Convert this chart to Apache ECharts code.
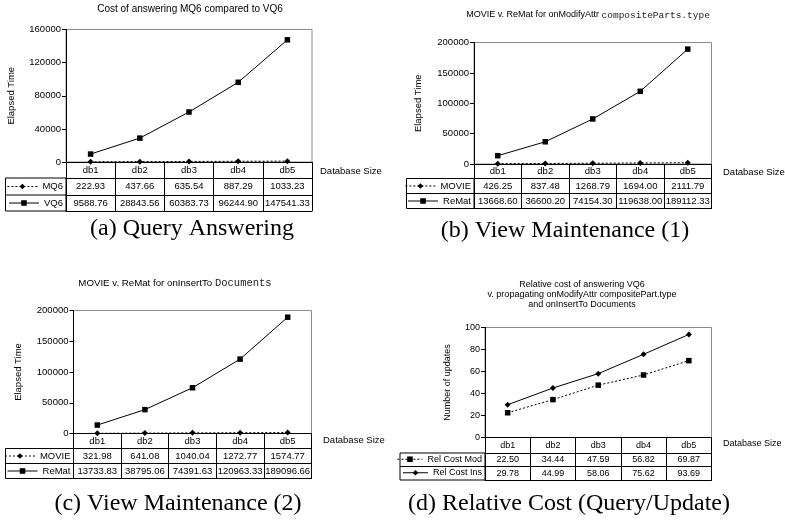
<!DOCTYPE html>
<html><head><meta charset="utf-8">
<script src="https://cdn.jsdelivr.net/npm/echarts@6/dist/echarts.min.js"></script>
<style>html,body{margin:0;padding:0;background:#fff}#c{width:785px;height:520px}</style>
</head><body><div id="c"></div>
<script>
// ---- data ----
const categories = ['db1', 'db2', 'db3', 'db4', 'db5'];
const aMQ6   = [222.93, 437.66, 635.54, 887.29, 1033.23];
const aVQ6   = [9588.76, 28843.56, 60383.73, 96244.90, 147541.33];
const bMOVIE = [426.25, 837.48, 1268.79, 1694.00, 2111.79];
const bReMat = [13668.60, 36600.20, 74154.30, 119638.00, 189112.33];
const cMOVIE = [321.98, 641.08, 1040.04, 1272.77, 1574.77];
const cReMat = [13733.83, 38795.06, 74391.63, 120963.33, 189096.66];
const dRelCostMod = [22.50, 34.44, 47.59, 56.82, 69.87];
const dRelCostIns = [29.78, 44.99, 58.06, 75.62, 93.69];
const yTicksA = [0, 40000, 80000, 120000, 160000];
const yTicksB = [0, 50000, 100000, 150000, 200000];
const yTicksD = [0, 20, 40, 60, 80, 100];

const FF = 'Liberation Sans, Arial, sans-serif';
const MONO = 'Liberation Mono, Courier New, monospace';
const SERIF = 'Liberation Serif, Times New Roman, serif';

const panels = [
  { names: ['MQ6', 'VQ6'], values: [aMQ6, aVQ6], symbols: ['diamond', 'rect'], dashed: [true, false],
    yTicks: yTicksA, yName: 'Elapsed Time',
    title: '{s|Cost of answering MQ6 compared to VQ6}', titleX: 190, titleY: 4, tfs: 10, mono: 10,
    caption: '(a) Query Answering', capX: 192, capY: 217,
    L: 66, R: 312, T: 29.5, rows: [162, 178, 195, 211], legL: 5.5, legW: 30,
    yNameGap: 50, dbGap: 8, dbDy: 4, fs: 9.5 },
  { names: ['MOVIE', 'ReMat'], values: [bMOVIE, bReMat], symbols: ['diamond', 'rect'], dashed: [true, false],
    yTicks: yTicksB, yName: 'Elapsed Time',
    title: '{s|MOVIE v. ReMat for onModifyAttr }{m|compositeParts.type}', titleX: 588, titleY: 10, tfs: 9, mono: 9.5,
    caption: '(b) View Maintenance (1)', capX: 565, capY: 219,
    L: 474, R: 711.5, T: 42.5, rows: [164, 178.5, 193.5, 208.5], legL: 406.5, legW: 30,
    yNameGap: 51, dbGap: 11.5, dbDy: 3, fs: 9.5 },
  { names: ['MOVIE', 'ReMat'], values: [cMOVIE, cReMat], symbols: ['diamond', 'rect'], dashed: [true, false],
    yTicks: yTicksB, yName: 'Elapsed Time',
    title: '{s|MOVIE v. ReMat for onInsertTo }{m|Documents}', titleX: 175, titleY: 278, tfs: 9.7, mono: 10.5,
    caption: '(c) View Maintenance (2)', capX: 178, capY: 492,
    L: 73.5, R: 311.5, T: 310.5, rows: [433.5, 448.5, 463.5, 478.5], legL: 5.5, legW: 30,
    yNameGap: 50, dbGap: 11.5, dbDy: 2, fs: 9.5 },
  { names: ['Rel Cost Mod', 'Rel Cost Ins'], values: [dRelCostMod, dRelCostIns], symbols: ['rect', 'diamond'], dashed: [true, false],
    yTicks: yTicksD, yName: 'Number of updates',
    title: '{s|Relative cost of answering VQ6}\n{s|v. propagating onModifyAttr compositePart.type}\n{s|and onInsertTo Documents}', titleX: 582, titleY: 280, tfs: 9, mono: 10,
    caption: '(d) Relative Cost (Query/Update)', capX: 569, capY: 492,
    L: 485, R: 711.5, T: 327.5, rows: [437.5, 453, 466.5, 480], legL: 400, legW: 25,
    yNameGap: 33, dbGap: 11.5, dbDy: 2, fs: 9 }
];

const grid = [], xAxis = [], yAxis = [], series = [], legend = [], title = [], graphic = [];

panels.forEach((p, k) => {
  const [ay, h1, h2, h3] = p.rows;
  grid.push({ left: p.L, top: p.T, width: p.R - p.L, height: ay - p.T, show: true,
    borderColor: '#8c8c8c', borderWidth: 1, containLabel: false, outerBoundsMode: 'none' });
  const yt = p.yTicks;
  yAxis.push({ type: 'value', gridIndex: k, min: yt[0], max: yt[yt.length - 1], interval: yt[1] - yt[0],
    axisLine: { show: true, lineStyle: { color: '#000', width: 1 } },
    axisTick: { show: true, length: 4, lineStyle: { color: '#000' } },
    splitLine: { show: false },
    axisLabel: { margin: 5, fontSize: p.fs, color: '#000', fontFamily: FF, formatter: v => String(v) },
    name: p.yName, nameLocation: 'middle', nameRotate: 90, nameGap: p.yNameGap,
    nameTextStyle: { fontSize: p.fs, color: '#000', fontFamily: FF } });
  const gx = xAxis.length;
  // header row (category labels) + "Database Size"
  xAxis.push({ type: 'category', gridIndex: k, data: categories, boundaryGap: true, position: 'bottom',
    axisLine: { show: true, onZero: false, lineStyle: { color: '#000', width: 1 } },
    axisTick: { show: true, interval: 0, length: h1 - ay, lineStyle: { color: '#000' } },
    axisLabel: { interval: 0, margin: (h1 - ay - p.fs) / 2, fontSize: p.fs, color: '#000', fontFamily: FF },
    name: 'Database Size', nameLocation: 'end', nameGap: p.dbGap, nameMoveOverlap: false,
    nameTextStyle: { fontSize: p.fs, color: '#000', fontFamily: FF, verticalAlign: 'top', align: 'left',
      padding: [p.dbDy, 0, 0, 0] } });
  // value rows
  const rowTops = [h1, h2], rowBots = [h2, h3];
  [0, 1].forEach(r => {
    const vals = p.values[r];
    xAxis.push({ type: 'category', gridIndex: k, data: categories, boundaryGap: true, position: 'bottom',
      offset: rowTops[r] - ay,
      axisLine: { show: true, onZero: false, lineStyle: { color: '#000', width: 1 } },
      axisTick: { show: true, interval: 0, length: rowBots[r] - rowTops[r], lineStyle: { color: '#000' } },
      axisLabel: { interval: 0, margin: (rowBots[r] - rowTops[r] - p.fs) / 2, fontSize: p.fs, color: '#000', fontFamily: FF,
        formatter: (v, i) => vals[i].toFixed(2) } });
  });
  // bottom edge of table
  xAxis.push({ type: 'category', gridIndex: k, data: categories, position: 'bottom', offset: h3 - ay,
    axisLine: { show: true, onZero: false, lineStyle: { color: '#000', width: 1 } },
    axisTick: { show: false }, axisLabel: { show: false } });

  [0, 1].forEach(r => {
    series.push({ type: 'line', name: p.names[r], xAxisIndex: gx, yAxisIndex: k, data: p.values[r],
      symbol: p.symbols[r], symbolSize: p.symbols[r] === 'rect' ? 5.5 : 6, animation: false,
      lineStyle: { color: '#000', width: 1, type: p.dashed[r] ? [2, 2] : 'solid' },
      itemStyle: { color: '#000' }, z: 3 });
    legend.push({ data: [p.names[r]], right: 785 - p.L + 3, top: rowTops[r] + (rowBots[r] - rowTops[r] - 10) / 2,
      padding: 0, itemWidth: p.legW, itemHeight: 7, selectedMode: false,
      lineStyle: { width: 1, type: p.dashed[r] ? [2, 2] : 'solid' },
      textStyle: { fontSize: p.fs, color: '#000', fontFamily: FF } });
  });

  // legend column borders
  graphic.push({ type: 'rect', shape: { x: p.legL, y: h1, width: p.L - p.legL, height: h3 - h1 },
    style: { fill: 'none', stroke: '#000', lineWidth: 1 }, silent: true });
  graphic.push({ type: 'line', shape: { x1: p.legL, y1: h2, x2: p.L, y2: h2 },
    style: { stroke: '#000', lineWidth: 1 }, silent: true });

  title.push({ text: p.title, left: p.titleX, top: p.titleY, textAlign: 'center', padding: 0,
    textStyle: { fontWeight: 'normal', rich: {
      s: { fontSize: p.tfs, fontWeight: 'normal', fontFamily: FF, color: '#000', lineHeight: 10 },
      m: { fontSize: p.mono, fontWeight: 'normal', fontFamily: MONO, color: '#222' } } } });
  title.push({ text: p.caption, left: p.capX, top: p.capY, textAlign: 'center', padding: 0,
    textStyle: { fontSize: 24, fontWeight: 'normal', fontFamily: SERIF, color: '#000' } });
});

const chart = echarts.init(document.getElementById('c'), null, { renderer: 'canvas' });
chart.setOption({ backgroundColor: '#fff', animation: false, grid, xAxis, yAxis, series, legend, title, graphic });
</script></body></html>
